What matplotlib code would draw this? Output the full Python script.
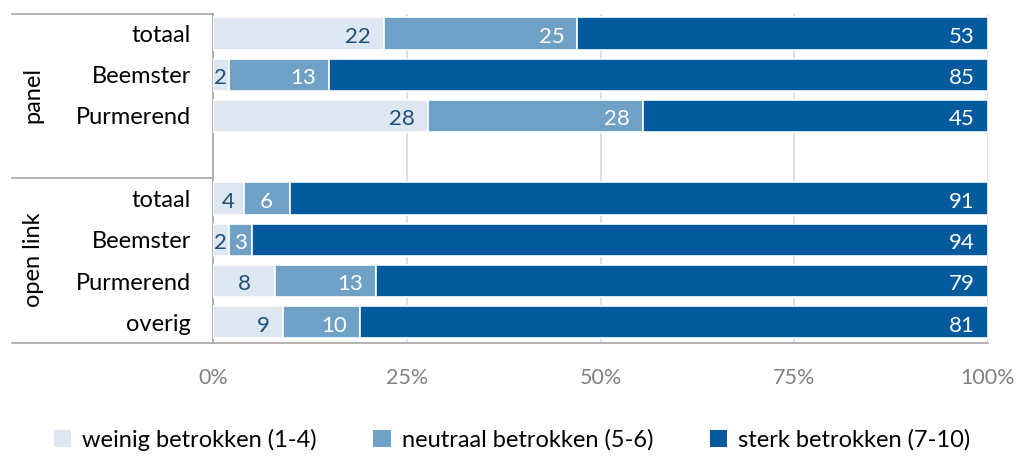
import matplotlib
matplotlib.use("Agg")
import matplotlib.pyplot as plt
from matplotlib.lines import Line2D
from matplotlib.patches import Patch
import numpy as np

plt.rcParams['font.family'] = ['Lato', 'DejaVu Sans']

categories = ["totaal", "Beemster", "Purmerend", "", "totaal", "Beemster", "Purmerend", "overig"]
groups = ["panel", "open link"]
weinig = [22, 2, 28, None, 4, 2, 8, 9]
neutraal = [25, 13, 28, None, 6, 3, 13, 10]
sterk = [53, 85, 45, None, 91, 94, 79, 81]
series_names = ["weinig betrokken (1-4)", "neutraal betrokken (5-6)", "sterk betrokken (7-10)"]
xticks = [0, 25, 50, 75, 100]
xtick_labels = ["0%", "25%", "50%", "75%", "100%"]

colors = ["#dce7f1", "#6fa1c7", "#035a9c"]
label_colors = ["#1f4e79", "white", "white"]

W, H = 1024, 457
fig = plt.figure(figsize=(W / 100, H / 100), dpi=100)
x0, x1, yt, yb = 213, 988, 14, 343
ax = fig.add_axes([x0 / W, 1 - yb / H, (x1 - x0) / W, (yb - yt) / H])
px = 100 / (x1 - x0)  # percent per pixel

n = len(categories)
ypos = np.arange(n)
left = np.zeros(n)
for si, ser in enumerate([weinig, neutraal, sterk]):
    for i in range(n):
        if ser[i] is None:
            continue
        tot = weinig[i] + neutraal[i] + sterk[i]
        w = ser[i] / tot * 100
        ax.barh(ypos[i], w, left=left[i], height=0.78, color=colors[si],
                edgecolor="white", linewidth=1.2, zorder=3)
        if w < 8.5:
            ax.text(left[i] + w / 2, ypos[i] + 0.08, str(ser[i]), ha="center", va="center",
                    color=label_colors[si], fontsize=16, zorder=4)
        else:
            ax.text(left[i] + w - 13 * px, ypos[i] + 0.08, str(ser[i]), ha="right", va="center",
                    color=label_colors[si], fontsize=16, zorder=4)
        left[i] += w

ax.set_xlim(0, 100)
ax.set_ylim(7.5, -0.47)
ax.set_yticks(ypos)
ax.set_yticklabels(categories, fontsize=17)
ax.set_xticks(xticks)
ax.set_xticklabels(xtick_labels, fontsize=15.5, color="#808080")
ax.tick_params(axis="both", length=0)
ax.tick_params(axis="y", pad=16)
ax.tick_params(axis="x", pad=18)
ax.xaxis.grid(True, color="#d9d9d9", linewidth=1.2, zorder=0)
ax.set_axisbelow(True)
for s in ["top", "right", "bottom"]:
    ax.spines[s].set_visible(False)
ax.spines["left"].set_color("#a6a6a6")
ax.spines["left"].set_linewidth(1.2)

lc = "#a6a6a6"
def hline(y, xa, xb):
    fig.add_artist(Line2D([xa / W, xb / W], [1 - y / H, 1 - y / H], color=lc, linewidth=1.2,
                          transform=fig.transFigure))
hline(14, 12, 213)
hline(178, 12, 213)
hline(343, 12, 988)

fig.text(33 / W, 1 - 95 / H, "panel", rotation=90, ha="center", va="center", fontsize=17)
fig.text(33 / W, 1 - 260 / H, "open link", rotation=90, ha="center", va="center", fontsize=17)

handles = [Patch(facecolor=c, edgecolor="none") for c in colors]
fig.legend(handles, series_names, loc="center", bbox_to_anchor=(0.5, 1 - 440 / H), ncol=3,
           frameon=False, fontsize=17, handlelength=0.75, handleheight=0.75,
           columnspacing=2.4, handletextpad=0.45)

fig.savefig("out.png", dpi=100)
